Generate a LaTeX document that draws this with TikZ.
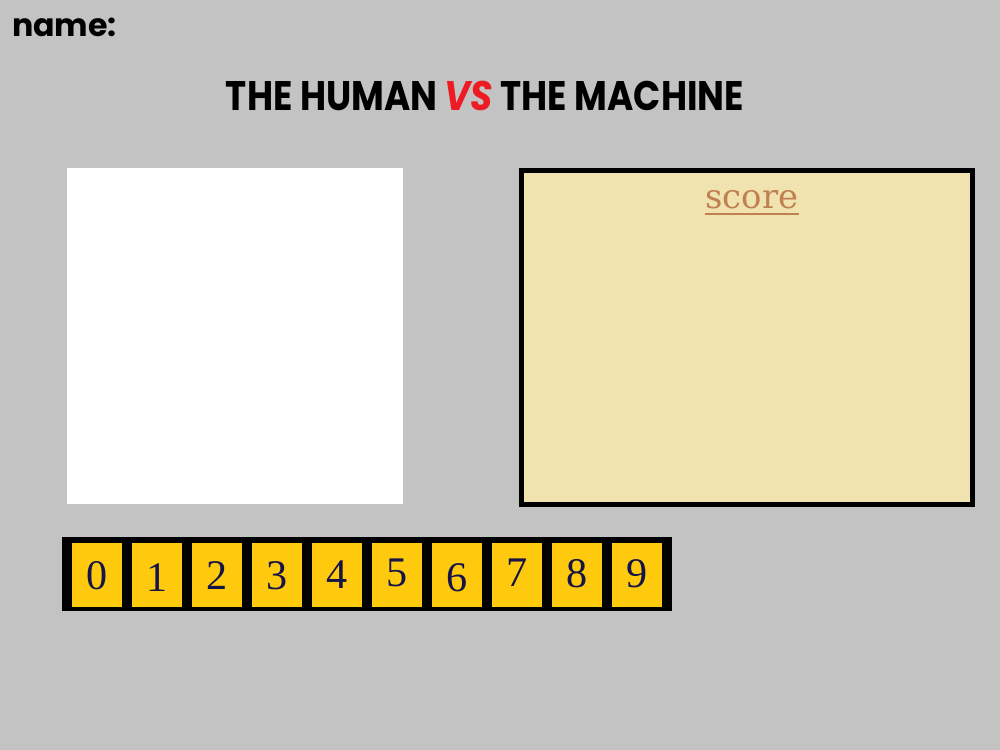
\documentclass[tikz,border=0pt]{standalone}
\usepackage{fontspec}
\setmainfont{Liberation Serif}
\newfontfamily\headfont{Poppins}
\newfontfamily\scorefont{DejaVu Serif}
\definecolor{pagegray}{RGB}{195,195,195}
\definecolor{scorebg}{RGB}{240,227,176}
\definecolor{scoretxt}{RGB}{192,128,80}
\definecolor{keyfill}{RGB}{255,201,14}
\definecolor{keytxt}{RGB}{20,20,70}
\definecolor{vsred}{RGB}{237,28,36}
\tikzset{
  lbl/.style={inner sep=0pt,outer sep=0pt},
  keybox/.style={fill=keyfill,minimum width=50*0.02cm,minimum height=64*0.02cm,inner sep=0pt,anchor=north west},
}
\begin{document}
\begin{tikzpicture}[x=0.02cm,y=-0.02cm]
                \fill [pagegray] (0,0) rectangle (1000,750);
                \useasboundingbox (0,0) rectangle (1000,750);
                \node [lbl,anchor=base west,font=\headfont\bfseries\fontsize{18}{22}\selectfont] (name) at (12,37) {name:};
                \node [lbl,anchor=base,font=\headfont\bfseries\fontsize{23.5}{28}\selectfont] (title) at (485,111) {\scalebox{0.865}[1]{THE HUMAN \textcolor{vsred}{\itshape VS} THE MACHINE}};
                \fill [white] (67,168) rectangle (403,504);
                \fill [black] (519,168) rectangle (975,507);
                \fill [scorebg] (524,173) rectangle (970,502);
                \node [lbl,anchor=base,text=scoretxt,font=\scorefont\fontsize{19.3}{22}\selectfont] (score) at (752,208) {score};
                \draw [scoretxt,line width=1.2pt] (score.base west) ++(0,6) -- ([yshift=-6*0.02cm]score.base east);
                \fill [black] (62,537) rectangle (672,611);
                \foreach \d/\dy in {0/0,1/2,2/0,3/0,4/-1,5/-2,6/2,7/-3,8/-2,9/-2} {
                    \node [keybox] (key\d) at (72+60*\d,543) {};
                    \node [lbl,text=keytxt,font=\fontsize{24}{28}\selectfont] (num\d) at ([yshift=-\dy*0.02cm]key\d.center) {\d};
                }
            \end{tikzpicture}
\end{document}
